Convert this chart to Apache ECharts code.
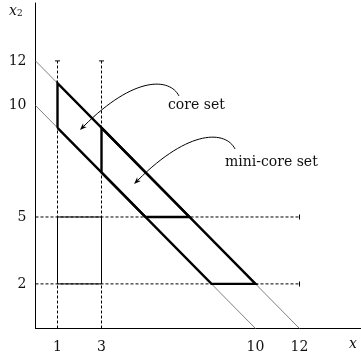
<!DOCTYPE html>
<html>
<head>
<meta charset="utf-8">
<script src="https://cdn.jsdelivr.net/npm/echarts@6/dist/echarts.min.js"></script>
<style>html,body{margin:0;padding:0;background:#fff}#c{width:361px;height:356px}</style>
</head>
<body>
<div id="c"></div>
<script>
// ---- data ----
const xTickLabels = [1, 3, 10, 12];
const yTickLabels = [2, 5, 10, 12];
const budgetLevels = [12, 10];              // x1 + x2 = level
const verticalGuides = [1, 3];              // dashed x = c, up to 12
const horizontalGuides = [5, 2];            // dashed y = c, out to 12
const guideEnd = 12;
const box = [[1, 2], [1, 5], [3, 5], [3, 2], [1, 2]];
const coreSet = [[1, 9], [1, 11], [10, 2], [8, 2], [1, 9]];
const miniCoreSet = [[3, 7], [3, 9], [7, 5], [5, 5], [3, 7]];
// arrows: start, control1, control2, tip (data units)
const arrowCore = [[6.52, 10.43], [6.11, 11.23], [4.52, 11.37], [2.02, 8.9]];
const arrowMini = [[9.07, 8.05], [8.66, 8.86], [7.02, 8.99], [4.48, 6.48]];
const arrows = [arrowCore, arrowMini];

const FONT = 'DejaVu Serif';
const series = [];

verticalGuides.forEach(function (c) {
  series.push({
    type: 'line', silent: true, animation: false, showSymbol: true, symbol: 'none',
    lineStyle: { color: '#000', width: 1, type: [3, 2] },
    data: [[c, 0], { value: [c, guideEnd], symbol: 'rect', symbolSize: [5, 1], itemStyle: { color: '#000' } }]
  });
});
horizontalGuides.forEach(function (c) {
  series.push({
    type: 'line', silent: true, animation: false, showSymbol: true, symbol: 'none',
    lineStyle: { color: '#000', width: 1, type: [3, 2] },
    data: [[0, c], { value: [guideEnd, c], symbol: 'rect', symbolSize: [1, 5], itemStyle: { color: '#000' } }]
  });
});
series.push({
  type: 'line', silent: true, animation: false, symbol: 'none',
  lineStyle: { color: '#000', width: 1 }, data: box
});
budgetLevels.forEach(function (c) {
  series.push({
    type: 'line', silent: true, animation: false, symbol: 'none',
    lineStyle: { color: '#808080', width: 1 }, data: [[0, c], [c, 0]]
  });
});
[coreSet, miniCoreSet].forEach(function (poly) {
  series.push({
    type: 'line', silent: true, animation: false, symbol: 'none',
    lineStyle: { color: '#000', width: 2.4, join: 'miter' }, data: poly
  });
});
series.push({
  type: 'custom', silent: true, animation: false,
  data: arrows.map(function (a, i) { return [i]; }),
  renderItem: function (params, api) {
    const a = arrows[params.dataIndex];
    const p = a.map(function (q) { return api.coord(q); });
    const dx = p[3][0] - p[2][0], dy = p[3][1] - p[2][1];
    const L = Math.sqrt(dx * dx + dy * dy);
    const ux = dx / L, uy = dy / L;
    const len = 7, hw = 2.6;
    const bx = p[3][0] - ux * len, by = p[3][1] - uy * len;
    return {
      type: 'group',
      children: [
        { type: 'bezierCurve',
          shape: { x1: p[0][0], y1: p[0][1], cpx1: p[1][0], cpy1: p[1][1], cpx2: p[2][0], cpy2: p[2][1], x2: bx + ux * 2, y2: by + uy * 2 },
          style: { stroke: '#000', lineWidth: 1, fill: null } },
        { type: 'polygon',
          shape: { points: [[p[3][0], p[3][1]], [bx - uy * hw, by + ux * hw], [bx + ux * 2, by + uy * 2], [bx + uy * hw, by - ux * hw]] },
          style: { fill: '#000' } }
      ]
    };
  }
});

const chart = echarts.init(document.getElementById('c'), null, { renderer: 'canvas' });
chart.setOption({
  animation: false,
  backgroundColor: '#fff',
  grid: { left: 35.5, right: 0, top: 3, bottom: 27.5, containLabel: false },
  xAxis: {
    type: 'value', min: 0, max: 14.795,
    axisLine: { show: true, lineStyle: { color: '#000', width: 1 } },
    axisTick: { show: false },
    splitLine: { show: false },
    axisLabel: { customValues: xTickLabels, color: '#111', fontFamily: FONT, fontSize: 14, margin: 12 }
  },
  yAxis: {
    type: 'value', min: 0, max: 14.596,
    axisLine: { show: true, lineStyle: { color: '#000', width: 1 } },
    axisTick: { show: false },
    splitLine: { show: false },
    axisLabel: { customValues: yTickLabels, color: '#111', fontFamily: FONT, fontSize: 14, margin: 9 }
  },
  series: series,
  graphic: [
    { type: 'text', left: 168, top: 98, silent: true,
      style: { text: 'core set', font: '14px "DejaVu Serif"', fill: '#111' } },
    { type: 'text', left: 225, top: 155, silent: true,
      style: { text: 'mini-core set', font: '14px "DejaVu Serif"', fill: '#111' } },
    { type: 'text', left: 9, top: 4, silent: true,
      style: { text: '{i|x}{s|2}', rich: { i: { fontFamily: FONT, fontStyle: 'italic', fontSize: 14, fill: '#111' }, s: { fontFamily: FONT, fontSize: 9, fill: '#111', padding: [6, 0, 0, 0] } } } },
    { type: 'text', left: 349, top: 337, silent: true,
      style: { text: 'x', font: 'italic 14px "DejaVu Serif"', fill: '#111' } }
  ]
});
</script>
</body>
</html>
